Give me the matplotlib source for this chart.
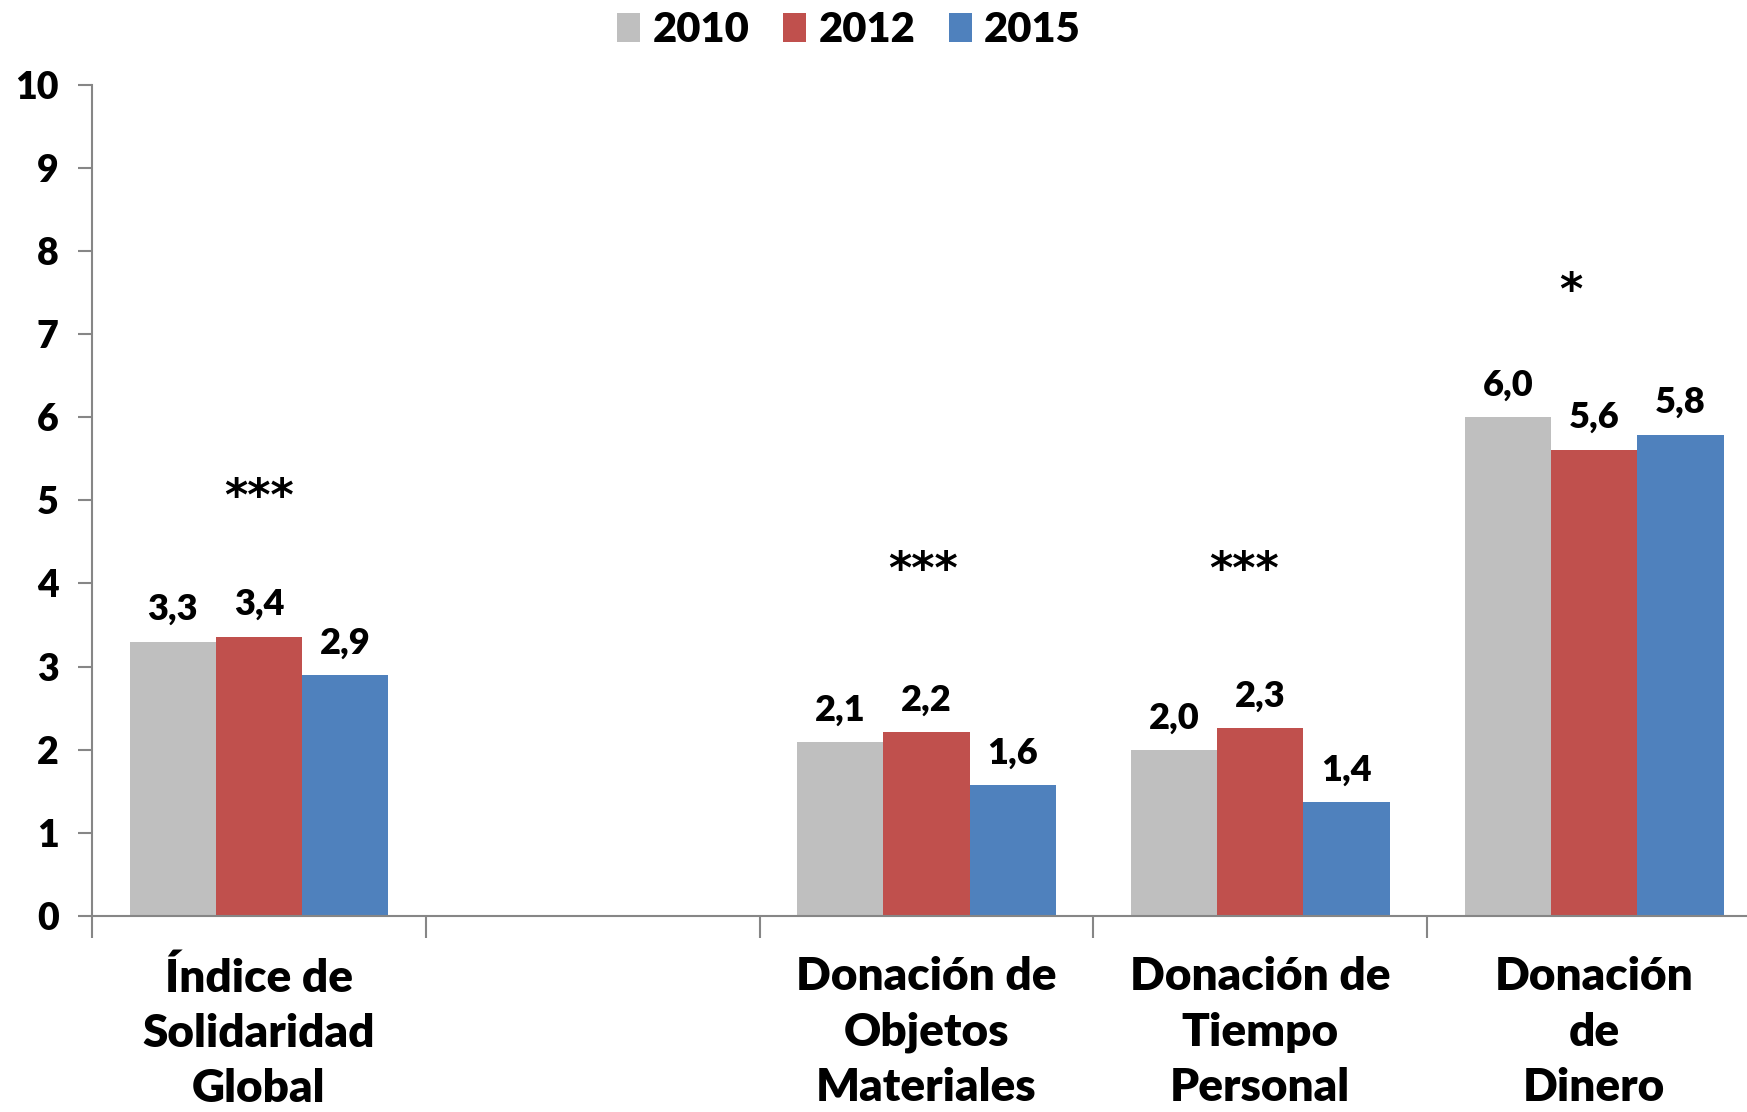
import matplotlib
matplotlib.use('Agg')
import matplotlib.pyplot as plt
import numpy as np

plt.rcParams['font.family'] = ['Lato', 'DejaVu Sans']
plt.rcParams['font.weight'] = 'bold'

# Data
categories = ['Índice de\nSolidaridad\nGlobal', '', 'Donación de\nObjetos\nMateriales',
              'Donación de\nTiempo\nPersonal', 'Donación\nde\nDinero']
years = ['2010', '2012', '2015']
v2010 = [3.30, np.nan, 2.09, 2.00, 6.00]
v2012 = [3.36, np.nan, 2.21, 2.26, 5.61]
v2015 = [2.90, np.nan, 1.57, 1.37, 5.79]
signif = ['***', '', '***', '***', '*']
signif_y = [5.16, 0, 4.28, 4.28, 7.63]
signif_dx = [0.0, 0.0, -0.01, -0.05, -0.07]

COLORS = ['#BFBFBF', '#C0504D', '#4F81BD']
AXIS_GREY = '#868686'

fig = plt.figure(figsize=(17.47, 11.12), dpi=100)
ax = fig.add_axes([0.0527, 0.1763, 0.9553, 0.7475])

x = np.arange(len(categories))
width = 0.2585
series = [v2010, v2012, v2015]
for i, (vals, year) in enumerate(zip(series, years)):
    pos = x + (i - 1) * width
    ax.bar(pos, vals, width, color=COLORS[i], label=year, edgecolor='none')
    for px, v in zip(pos, vals):
        if np.isnan(v):
            continue
        ax.annotate(f'{v:.1f}'.replace('.', ','), xy=(px, v), xytext=(0, 23),
                    textcoords='offset points', ha='center', va='center',
                    fontsize=26, fontweight='heavy', color='black')

for xi, s, sy, dx in zip(x, signif, signif_y, signif_dx):
    if s:
        ax.text(xi + dx, sy - 0.12, s, ha='center', va='center', fontsize=32,
                fontweight='bold', color='black', family='DejaVu Sans')

ax.set_xlim(-0.5, len(categories) - 0.5)
ax.set_ylim(0, 10)
ax.set_yticks(range(0, 11))
ax.tick_params(axis='y', direction='out', length=10, width=1.5, color=AXIS_GREY,
               labelsize=27, pad=14)
for lab in ax.get_yticklabels():
    lab.set_fontweight('heavy')
ax.set_xticks(x)
ax.set_xticklabels(categories, fontsize=33, fontweight='heavy', linespacing=1.42)
ax.tick_params(axis='x', length=0, pad=29)
ax.set_xticks(np.arange(-0.5, len(categories)), minor=True)
ax.tick_params(axis='x', which='minor', direction='out', length=16, width=1.5,
               color=AXIS_GREY)

for side in ['top', 'right']:
    ax.spines[side].set_visible(False)
for side in ['left', 'bottom']:
    ax.spines[side].set_color(AXIS_GREY)
    ax.spines[side].set_linewidth(1.5)

fig.legend(loc='center', bbox_to_anchor=(0.486, 0.973), ncol=3, frameon=False,
           handlelength=0.55, handleheight=0.7, handletextpad=0.3,
           columnspacing=0.8, prop={'weight': 'heavy', 'size': 30})

fig.savefig('out.png', dpi=100)
